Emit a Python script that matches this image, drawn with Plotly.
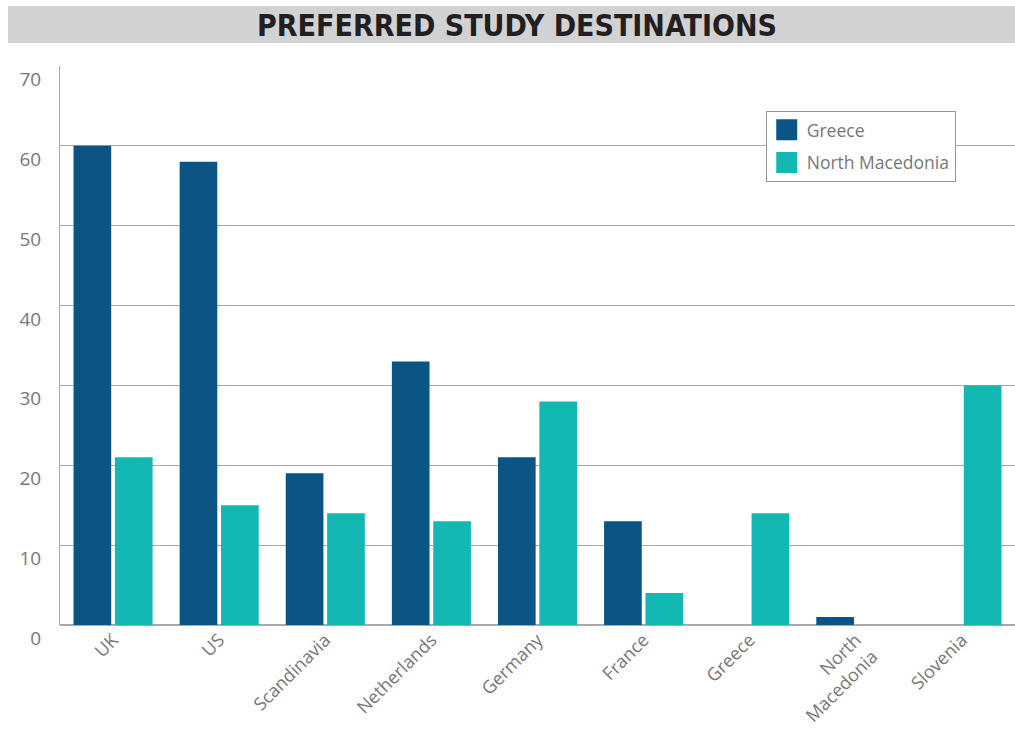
import plotly.graph_objects as go

# Preferred study destinations by country of origin (percent of respondents)
categories = ["UK", "US", "Scandinavia", "Netherlands", "Germany", "France",
              "Greece", "North<br>Macedonia", "Slovenia"]
greece = [60, 58, 19, 33, 21, 13, 0, 1, 0]
north_macedonia = [21, 15, 14, 13, 28, 4, 14, 0, 30]
y_ticks = [0, 10, 20, 30, 40, 50, 60, 70]

GREECE_COLOR = "#0a5586"
NM_COLOR = "#12b8b1"
GRID = "#a7a9ac"
TEXT = "#76777a"

fig = go.Figure()
fig.add_trace(go.Bar(x=categories, y=greece, name="Greece", legendgroup="gr",
                     marker=dict(color=GREECE_COLOR, line=dict(width=0)),
                     showlegend=False))
fig.add_trace(go.Bar(x=categories, y=north_macedonia, name="North Macedonia",
                     legendgroup="nm",
                     marker=dict(color=NM_COLOR, line=dict(width=0)),
                     showlegend=False))

# Legend entries with large square swatches
for name, color, grp in [("Greece", GREECE_COLOR, "gr"),
                         ("North Macedonia", NM_COLOR, "nm")]:
    fig.add_trace(go.Scatter(x=[None], y=[None], mode="markers", name=name,
                             legendgroup=grp,
                             marker=dict(symbol="square", size=16, color=color,
                                         line=dict(color=color, width=5))))

# Title band
fig.add_shape(type="rect", xref="paper", yref="paper",
              x0=-0.0545, x1=1.0, y0=1.0411, y1=1.1073,
              fillcolor="#d1d2d4", line=dict(width=0), layer="below")
fig.add_annotation(text="<b>PREFERRED STUDY DESTINATIONS</b>",
                   xref="paper", yref="paper", x=0.4785, y=1.0733,
                   showarrow=False, xanchor="center", yanchor="middle",
                   font=dict(family="DejaVu Sans Condensed", size=30, color="#231f20"))

fig.update_layout(
    width=1015, height=731,
    margin=dict(l=60, r=0, t=66, b=106),
    paper_bgcolor="white", plot_bgcolor="white",
    barmode="group", bargap=0.22, bargroupgap=0.09,
    font=dict(family="Open Sans", color=TEXT),
    legend=dict(x=0.739, y=0.9195, xanchor="left", yanchor="top",
                bgcolor="white", bordercolor="#939598", borderwidth=1,
                font=dict(family="Open Sans", size=17.5, color=TEXT),
                itemsizing="trace", tracegroupgap=7),
    xaxis=dict(showline=False, showgrid=False, ticks="", tickangle=-45,
               automargin=False, ticklabelstandoff=0,
               tickfont=dict(size=18, color=TEXT)),
    yaxis=dict(range=[0, 70], tickvals=y_ticks, showgrid=True, gridcolor=GRID,
               gridwidth=1, showline=True, linecolor=GRID, linewidth=1,
               zeroline=True, zerolinecolor=GRID, zerolinewidth=2,
               automargin=False,
               ticks="", ticklen=0, ticklabelposition="outside bottom",
               ticklabelstandoff=14, tickfont=dict(size=19, color=TEXT)),
)

fig.write_html("out.html")
